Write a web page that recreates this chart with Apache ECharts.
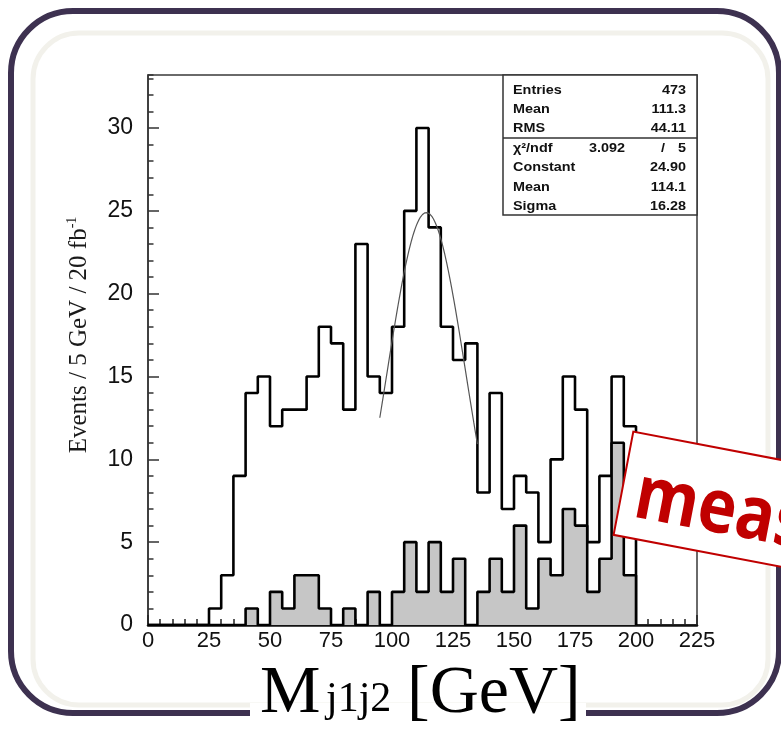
<!DOCTYPE html>
<html>
<head>
<meta charset="utf-8">
<script src="https://cdn.jsdelivr.net/npm/echarts@6/dist/echarts.min.js"></script>
<style>
  html, body { margin: 0; padding: 0; background: #fff; }
  #chart { width: 781px; height: 746px; }
</style>
</head>
<body>
<div id="chart"></div>
<script>
// Dijet invariant mass M_j1j2, 5 GeV bins from 0 to 200 GeV
const binWidth = 5;
const binStart = 0;

// all selected events per bin
const allEvents = [0, 0, 0, 0, 0, 1, 3, 9, 14, 15,
                   12, 13, 13, 15, 18, 17, 13, 23, 15, 14,
                   18, 25, 30, 24, 18, 16, 17, 8, 14, 7,
                   9, 8, 5, 10, 15, 13, 5, 9, 15, 12];

// shaded component per bin
const shadedEvents = [0, 0, 0, 0, 0, 0, 0, 0, 1, 0,
                      2, 1, 3, 3, 1, 0, 1, 0, 2, 0,
                      2, 5, 2, 5, 2, 4, 0, 2, 4, 2,
                      6, 1, 4, 3, 7, 6, 2, 4, 11, 3];

// Gaussian fit results (stat box) and the fitted range
const fitConstant = 24.90;
const fitMean = 114.1;
const fitSigma = 16.28;
const fitRange = [95, 135];

// stat box rows: [label, value]
const statsTop = [['Entries', '473'], ['Mean', '111.3'], ['RMS', '44.11']];
const chi2Row = ['χ²/ndf', '3.092', '/', '5'];
const statsFit = [['Constant', '24.90'], ['Mean', '114.1'], ['Sigma', '16.28']];

const xTicks = { min: 0, max: 225, major: 25, minor: 5 };
const yTicks = { min: 0, max: 33.2, major: 5, minor: 1 };

// histogram outline points: left edge of every bin, then back to zero at the last edge
function histPoints(counts) {
  const pts = counts.map((v, i) => [binStart + i * binWidth, v]);
  pts.push([binStart + counts.length * binWidth, 0]);
  return pts;
}

// fitted gaussian evaluated over its fit range
function fitCurve() {
  const pts = [];
  for (let x = fitRange[0]; x <= fitRange[1] + 1e-9; x += 0.5) {
    const t = (x - fitMean) / fitSigma;
    pts.push([x, fitConstant * Math.exp(-0.5 * t * t)]);
  }
  return pts;
}

const chart = echarts.init(document.getElementById('chart'), null, { renderer: 'canvas' });

const plot = { left: 148, top: 75, width: 549, height: 550 };
const tickFont = 'Liberation Sans, Arial, sans-serif';
const serif = 'Liberation Serif, Times New Roman, serif';
const statFont = 'bold 12px Liberation Sans, Arial, sans-serif';

function statText(x, y, text, align) {
  return {
    type: 'text', x: x, y: y, scaleX: 1.2, z: 60,
    style: { text: text, font: statFont, fill: '#111', align: align, verticalAlign: 'middle' }
  };
}

const statRowsY = [90.5, 109.5, 128.5, 148.5, 168, 187.5, 206.5];
const statElements = [
  { type: 'rect', z: 55, shape: { x: 503, y: 75, width: 194, height: 140 },
    style: { fill: '#fff', stroke: '#333', lineWidth: 1.5 } },
  { type: 'line', z: 56, shape: { x1: 503, y1: 138, x2: 697, y2: 138 },
    style: { stroke: '#333', lineWidth: 1.5 } }
];
statsTop.forEach((r, i) => {
  statElements.push(statText(513, statRowsY[i], r[0], 'left'));
  statElements.push(statText(686, statRowsY[i], r[1], 'right'));
});
statElements.push(statText(513, statRowsY[3], chi2Row[0], 'left'));
statElements.push(statText(625, statRowsY[3], chi2Row[1], 'right'));
statElements.push(statText(663, statRowsY[3], chi2Row[2], 'center'));
statElements.push(statText(686, statRowsY[3], chi2Row[3], 'right'));
statsFit.forEach((r, i) => {
  statElements.push(statText(513, statRowsY[4 + i], r[0], 'left'));
  statElements.push(statText(686, statRowsY[4 + i], r[1], 'right'));
});

const option = {
  animation: false,
  backgroundColor: '#fff',
  grid: {
    left: plot.left, top: plot.top, width: plot.width, height: plot.height,
    show: true, borderColor: '#3a3a3a', borderWidth: 1.5, backgroundColor: '#fff'
  },
  xAxis: [
    {
      type: 'value', min: xTicks.min, max: xTicks.max, interval: xTicks.major, position: 'bottom',
      axisLine: { show: true, onZero: false, lineStyle: { color: '#111', width: 2.5 } },
      axisTick: { show: true, inside: true, length: 10, lineStyle: { color: '#222', width: 1.5 } },
      axisLabel: { fontFamily: tickFont, fontSize: 22, color: '#111', margin: 5 },
      splitLine: { show: false }
    },
    {
      type: 'value', min: xTicks.min, max: xTicks.max, interval: xTicks.minor, position: 'bottom',
      axisLine: { show: false },
      axisTick: { show: true, inside: true, length: 6, lineStyle: { color: '#222', width: 1.5 } },
      axisLabel: { show: false }, splitLine: { show: false }
    }
  ],
  yAxis: [
    {
      type: 'value', min: yTicks.min, max: yTicks.max, interval: yTicks.major, position: 'left',
      axisLine: { show: true, onZero: false, lineStyle: { color: '#333', width: 1.5 } },
      axisTick: { show: true, inside: true, length: 11, lineStyle: { color: '#333', width: 1.5 } },
      axisLabel: { fontFamily: tickFont, fontSize: 23, color: '#111', margin: 15, showMaxLabel: false },
      splitLine: { show: false }
    },
    {
      type: 'value', min: yTicks.min, max: yTicks.max, interval: yTicks.minor, position: 'left',
      axisLine: { show: false },
      axisTick: { show: true, inside: true, length: 5.5, lineStyle: { color: '#333', width: 1.5 } },
      axisLabel: { show: false }, splitLine: { show: false }
    }
  ],
  series: [
    {
      name: 'all', type: 'line', step: 'end', xAxisIndex: 0, yAxisIndex: 0,
      data: histPoints(allEvents), showSymbol: false, symbol: 'none',
      lineStyle: { color: '#000', width: 2.6 }, z: 3
    },
    {
      name: 'shaded', type: 'line', step: 'end', xAxisIndex: 0, yAxisIndex: 0,
      data: histPoints(shadedEvents), showSymbol: false, symbol: 'none',
      lineStyle: { color: '#000', width: 2.6 },
      areaStyle: { color: '#c6c6c6', opacity: 1 }, z: 4
    },
    {
      name: 'fit', type: 'line', xAxisIndex: 0, yAxisIndex: 0,
      data: fitCurve(), showSymbol: false, symbol: 'none', smooth: false,
      lineStyle: { color: '#555', width: 1.2 }, z: 5
    }
  ],
  graphic: [
    // rounded slide frame
    { type: 'rect', z: -10, silent: true, shape: { x: 33, y: 33, width: 735, height: 672, r: 46 },
      style: { fill: null, stroke: '#f2f1eb', lineWidth: 5 } },
    { type: 'rect', z: -5, silent: true, shape: { x: 11, y: 11, width: 768, height: 702, r: 62 },
      style: { fill: null, stroke: '#3d3150', lineWidth: 6 } },
    { type: 'rect', z: 1, silent: true, shape: { x: 250, y: 703, width: 336, height: 20 },
      style: { fill: '#fff' } },
    // axis titles
    { type: 'text', z: 20, x: 79, y: 335, rotation: Math.PI / 2,
      style: {
        text: 'Events / 5 GeV / 20 fb{sup|-1}', fill: '#1a1a1a',
        font: '25px ' + serif, align: 'center', verticalAlign: 'middle',
        rich: { sup: { fontSize: 14, fontFamily: serif, fill: '#1a1a1a', padding: [0, 0, 13, 0] } }
      } },
    { type: 'text', z: 20, x: 260, y: 694,
      style: { text: 'M', font: '68px ' + serif, fill: '#000', align: 'left', verticalAlign: 'middle' } },
    { type: 'text', z: 20, x: 326, y: 700,
      style: { text: 'j1j2', font: '42px ' + serif, fill: '#000', align: 'left', verticalAlign: 'middle' } },
    { type: 'text', z: 20, x: 407, y: 694,
      style: { text: '[GeV]', font: '68px ' + serif, fill: '#000', align: 'left', verticalAlign: 'middle' } },
    // stat box
    { type: 'group', z: 50, children: statElements },
    // red tag
    { type: 'group', z: 100, x: 633.3, y: 431.7, rotation: -10.8 * Math.PI / 180,
      children: [
        { type: 'rect', z: 100, shape: { x: 0, y: 0, width: 320, height: 105 },
          style: { fill: '#fff', stroke: '#c00000', lineWidth: 2 } },
        { type: 'text', z: 101, x: 14, y: 62, scaleY: 1.15,
          style: { text: 'meas', font: 'bold 65px Open Sans, sans-serif', fill: '#c00000',
                   align: 'left', verticalAlign: 'middle' } }
      ] }
  ]
};

chart.setOption(option);
</script>
</body>
</html>
